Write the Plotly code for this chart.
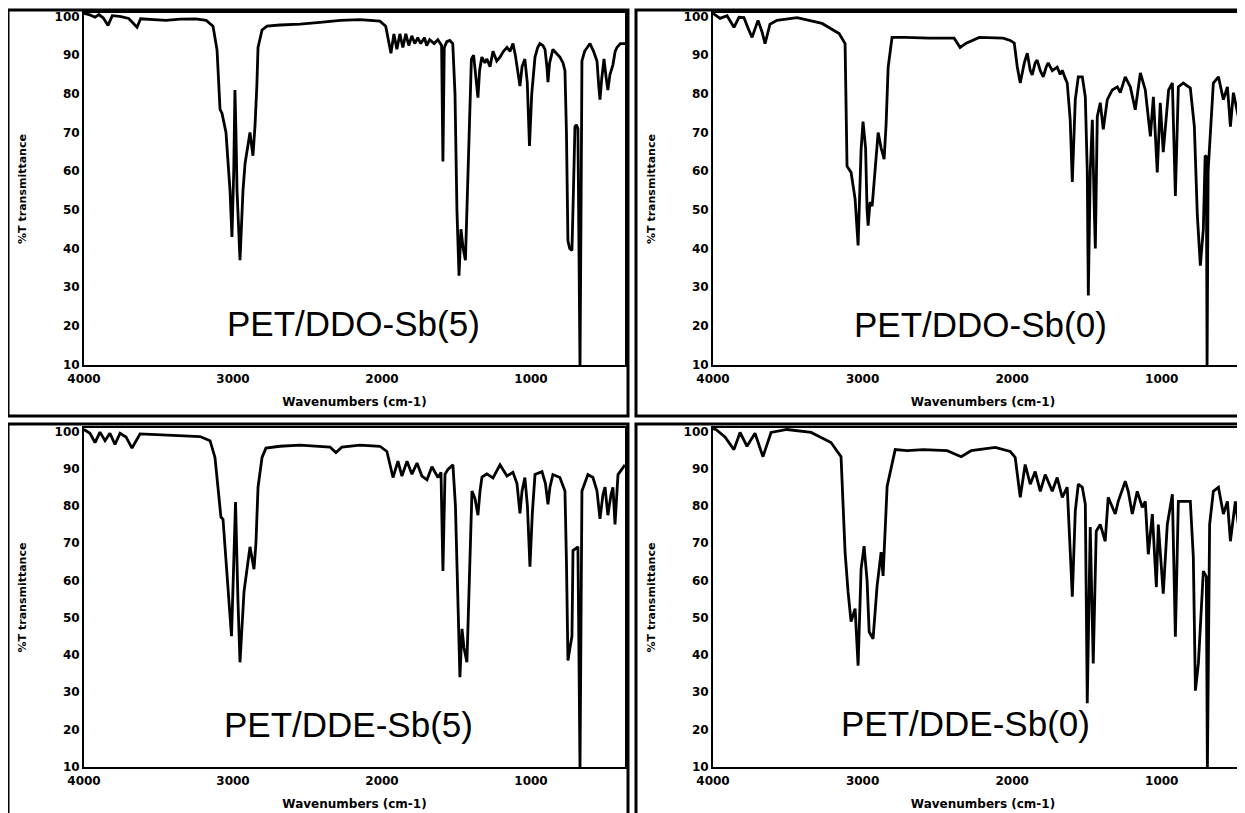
import plotly.graph_objects as go

# ---------------- data ----------------
PANEL_LABELS = ["PET/DDO-Sb(5)", "PET/DDO-Sb(0)", "PET/DDE-Sb(5)", "PET/DDE-Sb(0)"]
X_TICKS = [4000, 3000, 2000, 1000]
Y_TICKS = [10, 20, 30, 40, 50, 60, 70, 80, 90, 100]
X_TITLE = "Wavenumbers (cm-1)"
Y_TITLE = "%T transmittance"

WN_DDO_SB5 = [4000, 3960, 3926, 3900, 3870, 3839, 3810, 3760, 3700, 3644, 3620, 3557, 3450, 3356, 3250,
              3180, 3134, 3107, 3087, 3074, 3047, 3020, 3007, 2995, 2987, 2980, 2973, 2953, 2940, 2933,
              2919, 2900, 2886, 2866, 2852, 2840, 2832, 2805, 2772, 2685, 2550, 2416, 2280, 2148, 2014,
              1975, 1950, 1940, 1920, 1900, 1880, 1860, 1840, 1820, 1800, 1780, 1760, 1740, 1715, 1700,
              1680, 1650, 1625, 1600, 1591, 1582, 1565, 1545, 1525, 1510, 1497, 1483, 1470, 1455, 1440,
              1430, 1415, 1400, 1385, 1370, 1356, 1345, 1330, 1310, 1296, 1275, 1255, 1230, 1208, 1185,
              1161, 1140, 1121, 1105, 1090, 1074, 1060, 1041, 1025, 1010, 995, 973, 955, 940, 920,
              906, 893, 886, 875, 853, 830, 806, 785, 772, 762, 752, 740, 725, 715, 705,
              695, 685, 678, 671, 664, 658, 640, 624, 604, 580, 557, 545, 537, 525, 510,
              495, 484, 470, 450, 435, 423, 400, 369]
T_DDO_SB5 = [100.8, 100.4, 99.8, 100.5, 99.6, 97.7, 100.2, 100.0, 99.5, 97.2, 99.4, 99.2, 99.0, 99.3, 99.4,
             99.0, 97.5, 91.3, 76.0, 75.0, 70.0, 55.0, 43.0, 60.0, 81.0, 70.0, 55.0, 37.0, 48.0, 55.0,
             62.0, 66.0, 70.0, 64.0, 72.0, 82.0, 92.0, 96.5, 97.5, 97.8, 98.0, 98.5, 99.0, 99.2, 98.8,
             97.5, 93.0, 90.5, 95.5, 91.5, 95.5, 92.0, 95.5, 92.5, 95.0, 93.0, 94.5, 93.0, 94.5, 92.5,
             94.0, 93.0, 94.0, 92.5, 62.5, 92.0, 93.5, 93.8, 93.0, 80.0, 50.0, 33.0, 45.0, 40.0, 37.0,
             50.0, 75.0, 89.0, 90.0, 85.0, 79.0, 86.0, 89.5, 88.0, 89.0, 87.0, 91.0, 88.5, 89.5, 91.0,
             92.0, 91.0, 93.0, 90.0, 86.0, 82.0, 87.0, 89.0, 83.0, 66.5, 80.0, 89.5, 92.0, 93.0, 92.5,
             91.5, 87.0, 83.0, 88.0, 91.5, 90.5, 89.5, 88.0, 86.0, 70.0, 42.0, 40.0, 39.5, 55.0, 71.5,
             72.0, 71.0, 40.0, 9.0, 50.0, 88.5, 91.0, 92.0, 93.0, 91.0, 88.5, 82.0, 78.5, 84.0, 89.0,
             84.0, 81.0, 85.0, 87.5, 91.0, 92.0, 93.0, 93.0]

WN_DDO_SB0 = [4000, 3953, 3906, 3860, 3826, 3793, 3766, 3739, 3699, 3672, 3652, 3619, 3572, 3438, 3271,
              3157, 3117, 3104, 3077, 3050, 3030, 3010, 2997, 2980, 2970, 2963, 2950, 2936, 2916, 2896,
              2876, 2856, 2843, 2829, 2803, 2716, 2555, 2388, 2348, 2307, 2220, 2060, 2013, 1986, 1966,
              1946, 1919, 1899, 1879, 1866, 1846, 1833, 1812, 1792, 1772, 1759, 1732, 1699, 1679, 1665,
              1645, 1632, 1612, 1598, 1578, 1558, 1531, 1511, 1498, 1491, 1478, 1464, 1451, 1444, 1431,
              1411, 1391, 1364, 1331, 1297, 1277, 1244, 1210, 1177, 1143, 1110, 1076, 1056, 1030, 1010,
              990, 954, 929, 909, 889, 856, 809, 782, 762, 742, 722, 710, 702, 697, 690,
              675, 655, 621, 588, 561, 541, 521, 488, 454, 441]
T_DDO_SB0 = [100.8, 99.5, 100.2, 97.2, 99.8, 99.7, 97.0, 94.6, 99.0, 96.0, 93.0, 98.0, 99.0, 99.7, 98.2,
             95.6, 93.0, 61.3, 59.7, 52.8, 40.8, 65.6, 72.8, 66.0, 50.0, 45.9, 52.0, 51.0, 60.5, 70.0,
             66.0, 63.1, 72.0, 86.9, 94.6, 94.6, 94.4, 94.4, 92.0, 93.1, 94.6, 94.4, 93.8, 93.1, 87.0,
             82.8, 88.0, 90.5, 86.0, 84.9, 88.0, 88.7, 86.0, 84.4, 87.0, 88.0, 86.0, 86.9, 85.0, 86.1,
             84.0, 82.8, 73.3, 57.2, 78.5, 84.4, 84.4, 79.2, 60.0, 27.9, 60.0, 73.3, 50.0, 40.0, 74.1,
             77.7, 70.8, 78.5, 81.0, 81.8, 80.3, 84.4, 81.8, 75.9, 85.4, 81.0, 69.0, 79.2, 59.7, 77.7,
             64.9, 81.0, 82.8, 53.6, 81.8, 82.8, 81.5, 71.5, 48.5, 35.6, 45.1, 63.8, 64.0, 9.0, 60.0,
             70.8, 82.8, 84.4, 78.5, 81.8, 71.5, 80.3, 74.1, 81.0, 82.0]

WN_DDE_SB5 = [4000, 3960, 3926, 3893, 3859, 3826, 3792, 3758, 3718, 3678, 3624, 3423, 3221, 3154, 3121,
              3101, 3081, 3067, 3040, 3010, 2997, 2983, 2967, 2953, 2926, 2886, 2859, 2846, 2832, 2805,
              2779, 2685, 2550, 2349, 2309, 2269, 2148, 2014, 1967, 1926, 1893, 1866, 1832, 1799, 1765,
              1732, 1698, 1665, 1624, 1604, 1591, 1577, 1557, 1524, 1507, 1490, 1477, 1463, 1450, 1430,
              1416, 1403, 1396, 1376, 1356, 1342, 1329, 1296, 1255, 1208, 1161, 1121, 1094, 1074, 1060,
              1041, 1024, 1007, 991, 973, 926, 903, 886, 873, 853, 806, 772, 762, 752, 738,
              725, 718, 685, 678, 671, 664, 658, 618, 584, 557, 537, 517, 503, 484, 463,
              450, 436, 416, 390, 369]
T_DDE_SB5 = [100.5, 99.5, 97.0, 99.8, 97.5, 99.5, 96.5, 99.5, 98.5, 95.5, 99.3, 99.0, 98.6, 97.5, 93.0,
             85.0, 77.0, 76.4, 61.0, 45.0, 62.0, 81.0, 55.0, 38.0, 57.0, 69.0, 63.0, 70.0, 85.0, 93.0,
             95.5, 96.0, 96.3, 95.8, 94.3, 95.8, 96.3, 96.0, 94.6, 87.6, 92.0, 88.0, 92.0, 88.5, 91.5,
             88.0, 87.0, 90.5, 87.6, 89.0, 62.5, 88.5, 89.8, 91.0, 80.0, 50.0, 34.0, 47.0, 42.0, 38.0,
             55.0, 75.0, 84.0, 82.0, 77.5, 84.0, 87.7, 88.6, 87.5, 91.0, 88.0, 89.0, 86.0, 78.0, 84.0,
             87.6, 80.0, 63.7, 78.0, 88.4, 89.2, 86.0, 80.4, 85.0, 88.4, 87.6, 84.0, 65.0, 38.5, 42.0,
             45.0, 68.0, 69.0, 40.0, 9.0, 50.0, 84.0, 88.4, 87.6, 84.0, 76.5, 83.0, 85.0, 77.5, 83.0,
             85.0, 75.0, 88.4, 90.0, 91.0]

WN_DDE_SB0 = [4000, 3980, 3920, 3860, 3819, 3773, 3719, 3666, 3612, 3505, 3344, 3211, 3144, 3117, 3097,
              3077, 3050, 3030, 3010, 2990, 2970, 2956, 2930, 2903, 2876, 2863, 2836, 2782, 2702, 2595,
              2435, 2341, 2274, 2113, 2013, 1980, 1946, 1913, 1879, 1846, 1812, 1779, 1732, 1699, 1665,
              1632, 1612, 1598, 1578, 1558, 1531, 1511, 1498, 1478, 1458, 1438, 1411, 1378, 1358, 1311,
              1291, 1244, 1224, 1197, 1164, 1130, 1110, 1090, 1063, 1036, 1023, 990, 963, 929, 909,
              889, 856, 809, 789, 775, 755, 722, 702, 695, 688, 680, 655, 621, 588, 561,
              541, 508, 488, 461, 441]
T_DDE_SB0 = [100.7, 100.5, 98.5, 95.1, 99.7, 96.0, 99.5, 93.2, 99.7, 100.5, 99.7, 97.0, 93.2, 67.6, 56.9,
             48.9, 52.4, 37.1, 63.0, 69.2, 60.0, 46.2, 44.3, 58.5, 67.6, 61.2, 85.2, 95.1, 94.8, 95.1,
             94.8, 93.2, 94.8, 95.7, 94.6, 93.0, 82.3, 91.1, 85.8, 89.2, 83.9, 88.4, 83.9, 87.6, 82.3,
             85.0, 67.9, 55.6, 78.6, 85.8, 85.0, 80.4, 27.0, 74.3, 37.7, 73.2, 75.0, 70.5, 82.3, 77.8,
             81.2, 86.6, 83.9, 77.8, 83.9, 79.6, 81.2, 67.0, 77.8, 58.2, 75.0, 56.4, 75.0, 83.1, 44.9,
             81.2, 81.2, 81.2, 66.3, 30.4, 37.7, 62.5, 61.0, 9.0, 40.0, 75.0, 83.9, 85.0, 77.8, 81.2,
             70.5, 81.2, 75.0, 67.0, 79.6]

SERIES = [(WN_DDO_SB5, T_DDO_SB5), (WN_DDO_SB0, T_DDO_SB0),
          (WN_DDE_SB5, T_DDE_SB5), (WN_DDE_SB0, T_DDE_SB0)]

# ---------------- layout (pixel geometry of the 1245x813 picture) ----------------
W, H = 1245, 813
PAGE_OFFSET = 8  # the page body margin shifts the figure by this many pixels
# plot areas: (left, right, top, bottom) in screen pixels
AREAS = [(84, 625, 13, 365), (713, 1253, 13, 365), (84, 625, 428, 767), (713, 1253, 428, 767)]
X_RANGES = [[4000, 369], [4000, 390], [4000, 369], [4000, 390]]
Y_RANGE = [9.9, 100.9]
# outer frames (x0, x1, y0, y1) screen pixels
FRAMES = [(8, 628, 10, 416), (636, 1270, 10, 416), (8, 628, 424, 840), (636, 1270, 424, 840)]
LABEL_POS = [(353, 323), (980, 324), (348, 724), (966, 723)]

def px(x):
    return (x - PAGE_OFFSET) / W

def py(y):
    return 1 - (y - PAGE_OFFSET) / H

fig = go.Figure()
tickfont = dict(family="DejaVu Sans", size=12, color="black", weight="bold")
xtitlefont = dict(family="DejaVu Sans", size=12, color="black", weight="bold")
ytitlefont = dict(family="DejaVu Sans", size=11, color="black", weight="bold")

for i, ((wn, t), (l, r, top, bot)) in enumerate(zip(SERIES, AREAS)):
    n = "" if i == 0 else str(i + 1)
    fig.add_trace(go.Scatter(x=wn, y=t, mode="lines", xaxis="x" + n, yaxis="y" + n,
                             line=dict(color="black", width=2.8), showlegend=False,
                             hoverinfo="skip"))
    fig.layout["xaxis" + n] = dict(
        domain=[px(l), px(r)], range=X_RANGES[i], anchor="y" + n, automargin=False,
        tickvals=X_TICKS, ticks="", showgrid=False, zeroline=False,
        showline=True, linecolor="black", linewidth=2, mirror=True, ticklabelstandoff=2,
        tickfont=tickfont, title=dict(text=X_TITLE, font=xtitlefont, standoff=12))
    fig.layout["yaxis" + n] = dict(
        domain=[py(bot), py(top)], range=Y_RANGE, anchor="x" + n, automargin=False,
        tickvals=Y_TICKS, ticks="", showgrid=False, zeroline=False,
        showline=True, linecolor="black", linewidth=2, mirror=True,
        tickfont=tickfont, title=dict(text=Y_TITLE, font=ytitlefont, standoff=26))

shapes = []
for (x0, x1, y0, y1) in FRAMES:
    shapes.append(dict(type="rect", xref="paper", yref="paper",
                       x0=px(x0), x1=px(x1), y0=py(y1), y1=py(y0),
                       line=dict(color="black", width=3), fillcolor="rgba(0,0,0,0)"))

annotations = []
for text, (cx, cy) in zip(PANEL_LABELS, LABEL_POS):
    annotations.append(dict(text=text, xref="paper", yref="paper", x=px(cx), y=py(cy),
                            xanchor="center", yanchor="middle", showarrow=False,
                            font=dict(family="Liberation Sans", size=35, color="black")))

fig.update_layout(width=W, height=H, margin=dict(l=0, r=0, t=0, b=0, pad=0),
                  paper_bgcolor="white", plot_bgcolor="white",
                  shapes=shapes, annotations=annotations)

fig.write_html("out.html")
